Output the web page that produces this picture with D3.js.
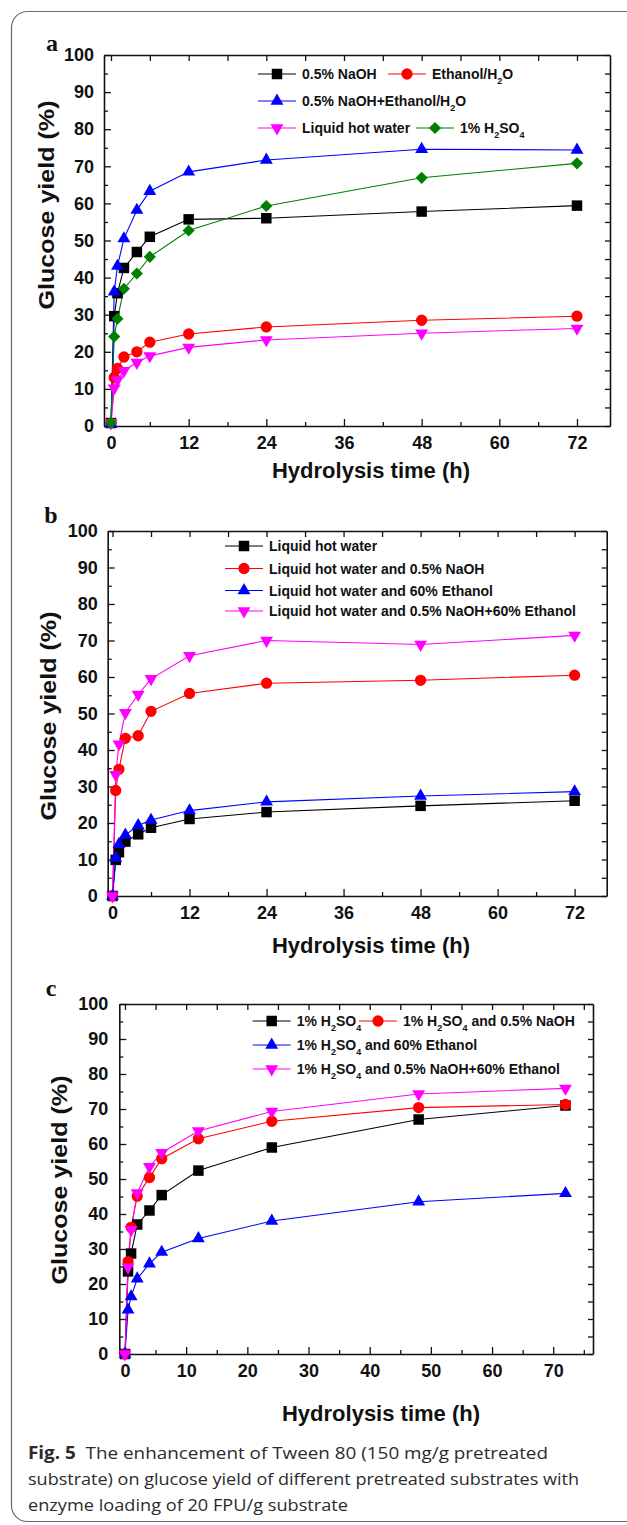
<!DOCTYPE html>
<html>
<head>
<meta charset="utf-8">
<script src="https://cdn.jsdelivr.net/npm/d3@7"></script>
<style>
  body { margin: 0; background: #fff; }
  text { font-family: "Liberation Sans", Arial, sans-serif; }
</style>
</head>
<body>
<div id="chart"></div>
<script>
// ---- data, panel a ----
const timesA = [0, 0.5, 1, 2, 4, 6, 12, 24, 48, 72];
const naohA = [0.8, 29.6, 35.8, 42.6, 46.9, 51.0, 55.7, 56.0, 57.8, 59.4];
const ethanolA = [0.8, 13.1, 15.5, 18.6, 20.0, 22.6, 24.8, 26.7, 28.5, 29.6];
const naohEthanolA = [0.5, 36.2, 43.1, 50.5, 58.2, 63.3, 68.5, 71.7, 74.6, 74.4];
const lhwA = [0.8, 10.2, 12.4, 14.9, 17.1, 18.9, 21.2, 23.2, 25.0, 26.3];
const h2so4A = [0.9, 24.1, 28.9, 37.0, 41.1, 45.6, 52.7, 59.3, 66.9, 70.8];
const labelsA = ["0.5% NaOH", "Ethanol/H_2O", "0.5% NaOH+Ethanol/H_2O", "Liquid hot water", "1% H_2SO_4"];

// ---- data, panel b ----
const timesB = [0, 0.5, 1, 2, 4, 6, 12, 24, 48, 72];
const lhwB = [0, 9.9, 12.0, 14.9, 16.9, 18.7, 21.1, 23.0, 24.7, 26.1];
const lhwNaohB = [0, 28.9, 34.7, 43.2, 43.9, 50.6, 55.5, 58.3, 59.1, 60.5];
const lhwEthanolB = [0, 10.4, 14.2, 16.7, 19.3, 20.8, 23.4, 25.8, 27.4, 28.6];
const lhwNaohEthanolB = [0, 33.2, 41.6, 50.2, 55.2, 59.5, 65.8, 70.0, 68.9, 71.4];
const labelsB = ["Liquid hot water", "Liquid hot water and 0.5% NaOH", "Liquid hot water and 60% Ethanol", "Liquid hot water and 0.5% NaOH+60% Ethanol"];

// ---- data, panel c ----
const timesC = [0, 0.5, 1, 2, 4, 6, 12, 24, 48, 72];
const h2so4C = [0, 23.6, 28.7, 37.0, 41.0, 45.4, 52.4, 59.0, 67.0, 71.0];
const h2so4NaohC = [0, 26.4, 36.2, 45.1, 50.4, 55.8, 61.5, 66.5, 70.4, 71.3];
const h2so4EthanolC = [0, 12.6, 16.4, 21.5, 25.8, 29.1, 33.0, 38.0, 43.5, 45.9];
const h2so4NaohEthanolC = [0, 24.8, 35.5, 46.0, 53.5, 57.5, 63.7, 69.3, 74.3, 75.9];
const labelsC = ["1% H_2SO_4", "1% H_2SO_4 and 0.5% NaOH", "1% H_2SO_4 and 60% Ethanol", "1% H_2SO_4 and 0.5% NaOH+60% Ethanol"];

// ---- ticks ----
const yMajor = d3.range(0, 101, 10);
const yMinor = d3.range(5, 100, 10);
const xMajorAB = [0, 12, 24, 36, 48, 60, 72];
const xMinorAB = [6, 18, 30, 42, 54, 66];
const xMajorC = [0, 10, 20, 30, 40, 50, 60, 70];
const xMinorC = [5, 15, 25, 35, 45, 55, 65, 75];

const captionLines = [
  ["Fig. 5", "  The enhancement of Tween 80 (150 mg/g pretreated"],
  ["", "substrate) on glucose yield of different pretreated substrates with"],
  ["", "enzyme loading of 20 FPU/g substrate"]
];

const svg = d3.select("#chart").append("svg")
  .attr("width", 627)
  .attr("height", 1525);

// card outline
svg.append("rect")
  .attr("x", 11.5).attr("y", 11.5)
  .attr("width", 660).attr("height", 1510)
  .attr("rx", 16)
  .attr("fill", "none")
  .attr("stroke", "#6a6a6a")
  .attr("stroke-width", 1.2);

function marker(sel, shape, color) {
  let path, rot = 0;
  if (shape === "square") path = d3.symbol(d3.symbolSquare, 110)();
  else if (shape === "circle") path = d3.symbol(d3.symbolCircle, 100)();
  else if (shape === "up") path = d3.symbol(d3.symbolTriangle, 72)();
  else if (shape === "down") { path = d3.symbol(d3.symbolTriangle, 72)(); rot = 180; }
  else { path = d3.symbol(d3.symbolSquare, 74)(); rot = 45; }
  sel.append("path")
    .attr("d", path)
    .attr("fill", color)
    .attr("data-rot", rot);
}

// put text with _x subscripts into a text element
function richText(sel, label) {
  const parts = label.split(/_(\d)/);
  parts.forEach((p, i) => {
    if (p === "") return;
    if (i % 2 === 1) {
      sel.append("tspan").attr("font-size", 9).attr("dy", 5).text(p);
    } else {
      const t = sel.append("tspan").text(p);
      if (i > 0) t.attr("dy", -5);
    }
  });
}

function drawPanel(p) {
  const x = d3.scaleLinear().domain(p.xDomain).range([p.left, p.right]);
  const y = d3.scaleLinear().domain([0, 100]).range([p.bottom, p.top]);
  const g = svg.append("g").style("color", "#111");

  function styleAxis(a) {
    a.attr("font-size", 18)
      .attr("font-family", "'Liberation Sans', Arial, sans-serif")
      .attr("font-weight", "bold");
    a.select(".domain").attr("stroke-width", 1.6);
    a.selectAll(".tick line").attr("stroke-width", 1.3);
  }

  // bottom & top
  g.append("g").attr("transform", `translate(0,${p.bottom})`)
    .call(d3.axisBottom(x).tickValues(p.xMajor).tickSize(-7).tickSizeOuter(0).tickPadding(10.5))
    .call(styleAxis);
  g.append("g").attr("transform", `translate(0,${p.bottom})`)
    .call(d3.axisBottom(x).tickValues(p.xMinor.filter(v => x(v) < p.right)).tickSize(-4).tickFormat(""))
    .call(a => a.select(".domain").remove())
    .call(styleAxis);
  g.append("g").attr("transform", `translate(0,${p.top})`)
    .call(d3.axisTop(x).tickValues(p.xMajor.concat(p.xMinor).filter(v => x(v) < p.right)).tickSize(-6).tickSizeOuter(0).tickFormat(""))
    .call(styleAxis);

  // left & right
  g.append("g").attr("transform", `translate(${p.left},0)`)
    .call(d3.axisLeft(y).tickValues(yMajor).tickSize(-7).tickSizeOuter(0).tickPadding(p.yPad))
    .call(styleAxis);
  g.append("g").attr("transform", `translate(${p.left},0)`)
    .call(d3.axisLeft(y).tickValues(yMinor).tickSize(-4).tickFormat(""))
    .call(a => a.select(".domain").remove())
    .call(styleAxis);
  g.append("g").attr("transform", `translate(${p.right},0)`)
    .call(d3.axisRight(y).tickValues(yMajor.concat(yMinor)).tickSize(-5).tickSizeOuter(0).tickFormat(""))
    .call(styleAxis);

  // series
  const line = d3.line().x(d => x(d[0])).y(d => y(d[1]));
  p.series.forEach(s => {
    const pts = p.times.map((t, i) => [t, s.values[i]]);
    g.append("path")
      .attr("d", line(pts))
      .attr("fill", "none")
      .attr("stroke", s.color)
      .attr("stroke-width", 1.1);
  });
  p.series.forEach(s => {
    const pts = p.times.map((t, i) => [t, s.values[i]]);
    pts.forEach(d => {
      const m = g.append("g");
      marker(m, s.shape, s.color);
      const path = m.select("path");
      path.attr("transform", `translate(${x(d[0])},${y(d[1])}) rotate(${path.attr("data-rot")})`);
    });
  });

  // legend
  p.legend.forEach((it, i) => {
    const s = p.series[i];
    g.append("line")
      .attr("x1", it.lx).attr("x2", it.lx + 38)
      .attr("y1", it.ly).attr("y2", it.ly)
      .attr("stroke", s.color).attr("stroke-width", 1.1);
    const m = g.append("g");
    marker(m, s.shape, s.color);
    const path = m.select("path");
    path.attr("transform", `translate(${it.lx + 19},${it.ly}) rotate(${path.attr("data-rot")})`);
    const t = g.append("text")
      .attr("x", it.lx + 44).attr("y", it.ly + 5)
      .attr("font-size", 14).attr("font-weight", "bold").attr("fill", "#111");
    richText(t, p.labels[i]);
  });

  // axis titles
  g.append("text")
    .attr("transform", `translate(${p.ytX},${p.ytY}) rotate(-90) scale(1.14,1)`)
    .attr("text-anchor", "middle").attr("dy", "0.35em")
    .attr("font-size", 22).attr("font-weight", "bold").attr("fill", "#111")
    .text("Glucose yield (%)");
  g.append("text")
    .attr("x", p.xtX).attr("y", p.xtY).attr("dy", "0.35em")
    .attr("text-anchor", "middle")
    .attr("font-size", 22).attr("font-weight", "bold").attr("fill", "#111")
    .text("Hydrolysis time (h)");
  g.append("text")
    .attr("x", p.tagX).attr("y", p.tagY).attr("dy", "0.35em")
    .attr("text-anchor", "middle")
    .style("font-family", "'Liberation Serif', 'Times New Roman', serif")
    .attr("font-size", 24).attr("font-weight", "bold").attr("fill", "#111")
    .text(p.tag);
}

drawPanel({
  tag: "a", tagX: 52, tagY: 43,
  left: 104, right: 610, top: 55, bottom: 426,
  xDomain: [-1.08, 77.1], xMajor: xMajorAB, xMinor: xMinorAB, yPad: 10,
  times: timesA,
  series: [
    { values: naohA, color: "#000000", shape: "square" },
    { values: ethanolA, color: "#ff0000", shape: "circle" },
    { values: naohEthanolA, color: "#0000ff", shape: "up" },
    { values: lhwA, color: "#ff00ff", shape: "down" },
    { values: h2so4A, color: "#008000", shape: "diamond" }
  ],
  labels: labelsA,
  legend: [
    { lx: 258, ly: 74 }, { lx: 388, ly: 74 },
    { lx: 258, ly: 101 }, { lx: 258, ly: 128 }, { lx: 416, ly: 128 }
  ],
  ytX: 46, ytY: 205, xtX: 371, xtY: 470
});

drawPanel({
  tag: "b", tagX: 51, tagY: 515,
  left: 107.7, right: 606.7, top: 531, bottom: 896,
  xDomain: [-0.75, 77.0], xMajor: xMajorAB, xMinor: xMinorAB, yPad: 10,
  times: timesB,
  series: [
    { values: lhwB, color: "#000000", shape: "square" },
    { values: lhwNaohB, color: "#ff0000", shape: "circle" },
    { values: lhwEthanolB, color: "#0000ff", shape: "up" },
    { values: lhwNaohEthanolB, color: "#ff00ff", shape: "down" }
  ],
  labels: labelsB,
  legend: [
    { lx: 225, ly: 546 }, { lx: 225, ly: 568.5 },
    { lx: 225, ly: 590.5 }, { lx: 225, ly: 611 }
  ],
  ytX: 48, ytY: 716, xtX: 371, xtY: 945
});

drawPanel({
  tag: "c", tagX: 51, tagY: 988,
  left: 119.3, right: 593, top: 1004, bottom: 1354,
  xDomain: [-0.93, 76.5], xMajor: xMajorC, xMinor: xMinorC, yPad: 11,
  times: timesC,
  series: [
    { values: h2so4C, color: "#000000", shape: "square" },
    { values: h2so4NaohC, color: "#ff0000", shape: "circle" },
    { values: h2so4EthanolC, color: "#0000ff", shape: "up" },
    { values: h2so4NaohEthanolC, color: "#ff00ff", shape: "down" }
  ],
  labels: labelsC,
  legend: [
    { lx: 252.7, ly: 1021 }, { lx: 359, ly: 1021 },
    { lx: 252.7, ly: 1045 }, { lx: 252.7, ly: 1069 }
  ],
  ytX: 59, ytY: 1180, xtX: 381, xtY: 1413
});

// caption
const capWidths = [520, 551, 320];
const capBase = [1459, 1485, 1511];
captionLines.forEach((ln, i) => {
  const t = svg.append("text")
    .attr("x", 28).attr("y", capBase[i])
    .attr("font-size", 17).attr("fill", "#2b2b2b")
    .style("font-family", "'Open Sans', 'Noto Sans', sans-serif")
    .attr("textLength", capWidths[i])
    .attr("lengthAdjust", "spacingAndGlyphs");
  if (ln[0]) t.append("tspan").attr("font-weight", "bold").text(ln[0]);
  t.append("tspan").attr("xml:space", "preserve").text(ln[1]);
});
</script>
</body>
</html>
